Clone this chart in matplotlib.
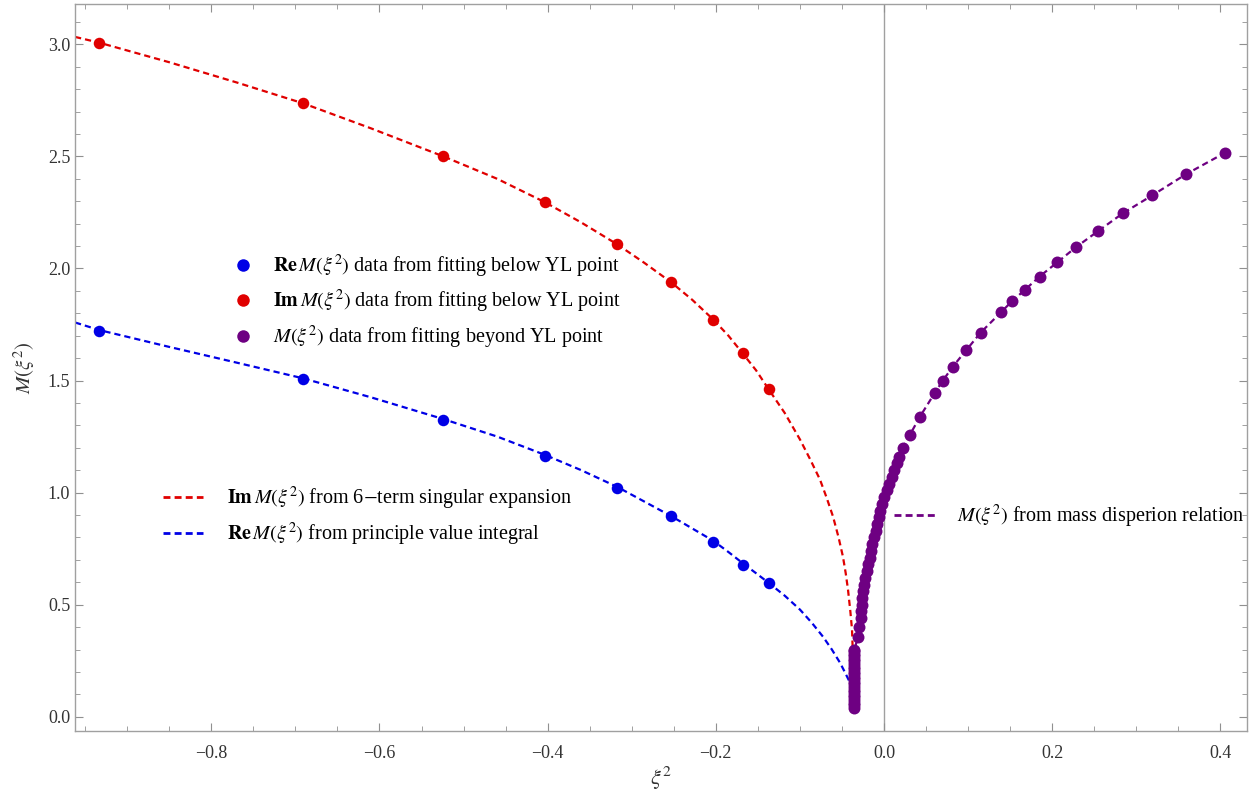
import matplotlib
matplotlib.use('Agg')
import matplotlib.pyplot as plt
from matplotlib.lines import Line2D
from matplotlib.ticker import MultipleLocator

plt.rcParams['font.family'] = ['Liberation Serif', 'DejaVu Serif']
plt.rcParams['mathtext.fontset'] = 'stix'

# fitted data points below the YL point
re_x = [-0.933, -0.691, -0.524, -0.403, -0.317, -0.253, -0.203, -0.168, -0.137]
re_y = [1.723, 1.509, 1.326, 1.165, 1.022, 0.897, 0.781, 0.679, 0.598]
im_x = [-0.933, -0.691, -0.524, -0.403, -0.317, -0.253, -0.203, -0.168, -0.137]
im_y = [3.007, 2.737, 2.500, 2.295, 2.107, 1.938, 1.772, 1.621, 1.460]

# Im M curve (6-term singular expansion)
imc_x = [-0.962, -0.933, -0.85, -0.77, -0.691, -0.61, -0.524, -0.46, -0.403, -0.36,
         -0.317, -0.285, -0.253, -0.228, -0.203, -0.185, -0.168, -0.152, -0.137, -0.118,
         -0.0999, -0.088, -0.0761, -0.068, -0.0606, -0.054, -0.0488, -0.0455, -0.0428,
         -0.040, -0.038, -0.0372, -0.0369, -0.0367, -0.0367]
imc_y = [3.033, 3.007, 2.92, 2.83, 2.737, 2.625, 2.50, 2.40, 2.295, 2.205,
         2.107, 2.025, 1.938, 1.86, 1.772, 1.70, 1.621, 1.545, 1.46, 1.355,
         1.237, 1.15, 1.058, 0.975, 0.893, 0.80, 0.714, 0.64, 0.567,
         0.47, 0.388, 0.30, 0.241, 0.13, 0.04]

# Re M curve (principal value integral)
rec_x = [-0.962, -0.933, -0.85, -0.77, -0.691, -0.61, -0.524, -0.46, -0.403, -0.36,
         -0.317, -0.285, -0.253, -0.228, -0.203, -0.185, -0.168, -0.152, -0.137, -0.118,
         -0.0999, -0.086, -0.0725, -0.062, -0.0523, -0.046, -0.0404, -0.0369, -0.0357]
rec_y = [1.759, 1.725, 1.65, 1.58, 1.51, 1.425, 1.328, 1.25, 1.168, 1.10,
         1.025, 0.96, 0.895, 0.84, 0.785, 0.735, 0.685, 0.64, 0.597, 0.54,
         0.478, 0.42, 0.357, 0.30, 0.241, 0.195, 0.152, 0.089, 0.054]

# M data beyond the YL point (dispersion relation)
pm_x = [-0.0362, -0.0362, -0.0361, -0.0361, -0.0360, -0.0360, -0.0359, -0.0359, -0.0358,
        -0.0358, -0.0357, -0.0357, -0.0356, -0.0356, -0.0355, -0.0355, -0.0354, -0.0354,
        -0.0353, -0.0353, -0.0352, -0.0352, -0.0351, -0.0351,
        -0.0309, -0.0297,
        -0.0278, -0.0271, -0.0264, -0.0256, -0.0246, -0.0234, -0.0222, -0.0206, -0.0188,
        -0.0170, -0.0154, -0.0137, -0.0118, -0.0100, -0.0081, -0.0062, -0.0042, -0.0021,
        0.0001, 0.0033, 0.0064, 0.0095, 0.0123, 0.0152,
        0.0178, 0.0226, 0.031, 0.0428, 0.0606, 0.070, 0.082, 0.0975, 0.115, 0.139,
        0.152, 0.168, 0.185, 0.206, 0.228, 0.254, 0.284, 0.319, 0.359, 0.406]
pm_y = [0.040, 0.052, 0.063, 0.075, 0.086, 0.098, 0.109, 0.121, 0.132,
        0.144, 0.155, 0.167, 0.178, 0.190, 0.201, 0.213, 0.224, 0.236,
        0.247, 0.259, 0.270, 0.282, 0.293, 0.300,
        0.357, 0.402,
        0.44, 0.47, 0.50, 0.53, 0.56, 0.59, 0.62, 0.65, 0.68,
        0.71, 0.74, 0.77, 0.80, 0.83, 0.86, 0.89, 0.92, 0.95,
        0.98, 1.01, 1.04, 1.07, 1.10, 1.13,
        1.161, 1.201, 1.259, 1.339, 1.446, 1.500, 1.5625, 1.634, 1.714, 1.804,
        1.853, 1.906, 1.964, 2.027, 2.094, 2.165, 2.246, 2.326, 2.420, 2.517]

red = '#e00000'
blue = '#0000e6'
purple = '#6e0082'
dash = (0, (2.8, 1.8))

fig = plt.figure(figsize=(12.51, 7.91), dpi=100)
ax = fig.add_axes([0.060, 0.076, 0.937, 0.919])

ax.axvline(0, color='#a0a0a0', lw=1.0, zorder=1)

ax.plot(imc_x, imc_y, color=red, lw=1.6, linestyle=dash, zorder=2)
ax.plot(rec_x, rec_y, color=blue, lw=1.6, linestyle=dash, zorder=2)
ax.plot(pm_x, pm_y, color=purple, lw=1.6, linestyle=dash, zorder=2)

ax.plot(re_x, re_y, 'o', color=blue, ms=8.3, mec='none', zorder=3)
ax.plot(im_x, im_y, 'o', color=red, ms=8.3, mec='none', zorder=3)
ax.plot(pm_x, pm_y, 'o', color=purple, ms=8.6, mec='none', zorder=3)

ax.set_xlim(-0.962, 0.432)
ax.set_ylim(-0.063, 3.18)

ax.xaxis.set_major_locator(MultipleLocator(0.2))
ax.xaxis.set_minor_locator(MultipleLocator(0.05))
ax.yaxis.set_major_locator(MultipleLocator(0.5))
ax.yaxis.set_minor_locator(MultipleLocator(0.1))
ax.tick_params(which='both', direction='in', top=True, right=True, color='#909090',
               labelcolor='#333333', labelsize=13)
ax.tick_params(which='major', length=6, width=0.8)
ax.tick_params(which='minor', length=3.5, width=0.6)
ax.tick_params(axis='x', pad=10)
ax.xaxis.set_major_formatter(matplotlib.ticker.FuncFormatter(
    lambda v, p: ('%.1f' % v).replace('-', '\u2212')))
ax.yaxis.set_major_formatter(matplotlib.ticker.FuncFormatter(lambda v, p: '%.1f' % v))
for s in ax.spines.values():
    s.set_color('#a0a0a0')
    s.set_linewidth(1.0)

ax.set_xlabel(r'$\xi^2$', fontsize=16, color='#333333', labelpad=2)
ax.set_ylabel(r'$M(\xi^2)$', fontsize=15, color='#333333', labelpad=8)

# legends
pt_handles = [Line2D([], [], marker='o', ls='none', color=c, ms=9, mec='none')
              for c in (blue, red, purple)]
pt_labels = [r'$\mathbf{Re}\,M(\xi^2)$ data from fitting below YL point',
             r'$\mathbf{Im}\,M(\xi^2)$ data from fitting below YL point',
             r'$M(\xi^2)$ data from fitting beyond YL point']
leg1 = ax.legend(pt_handles, pt_labels, loc='upper left', bbox_to_anchor=(0.128, 0.669),
                 frameon=False, fontsize=14.5, handlelength=1.0, handletextpad=1.0,
                 labelspacing=0.42, borderaxespad=0)
ax.add_artist(leg1)

ln_handles = [Line2D([], [], color=red, lw=2, linestyle=(0, (2.5, 1.5))),
              Line2D([], [], color=blue, lw=2, linestyle=(0, (2.5, 1.5)))]
ln_labels = [r'$\mathbf{Im}\,M(\xi^2)$ from 6$-$term singular expansion',
             r'$\mathbf{Re}\,M(\xi^2)$ from principle value integral']
leg2 = ax.legend(ln_handles, ln_labels, loc='upper left', bbox_to_anchor=(0.068, 0.350),
                 frameon=False, fontsize=14.5, handlelength=2.0, handletextpad=1.2,
                 labelspacing=0.45, borderaxespad=0)
ax.add_artist(leg2)

leg3 = ax.legend([Line2D([], [], color=purple, lw=2, linestyle=(0, (2.5, 1.5)))],
                 [r'$M(\xi^2)$ from mass disperion relation'],
                 loc='upper left', bbox_to_anchor=(0.692, 0.325),
                 frameon=False, fontsize=14.5, handlelength=2.0, handletextpad=1.1,
                 borderaxespad=0)

fig.savefig('out.png', dpi=100)
